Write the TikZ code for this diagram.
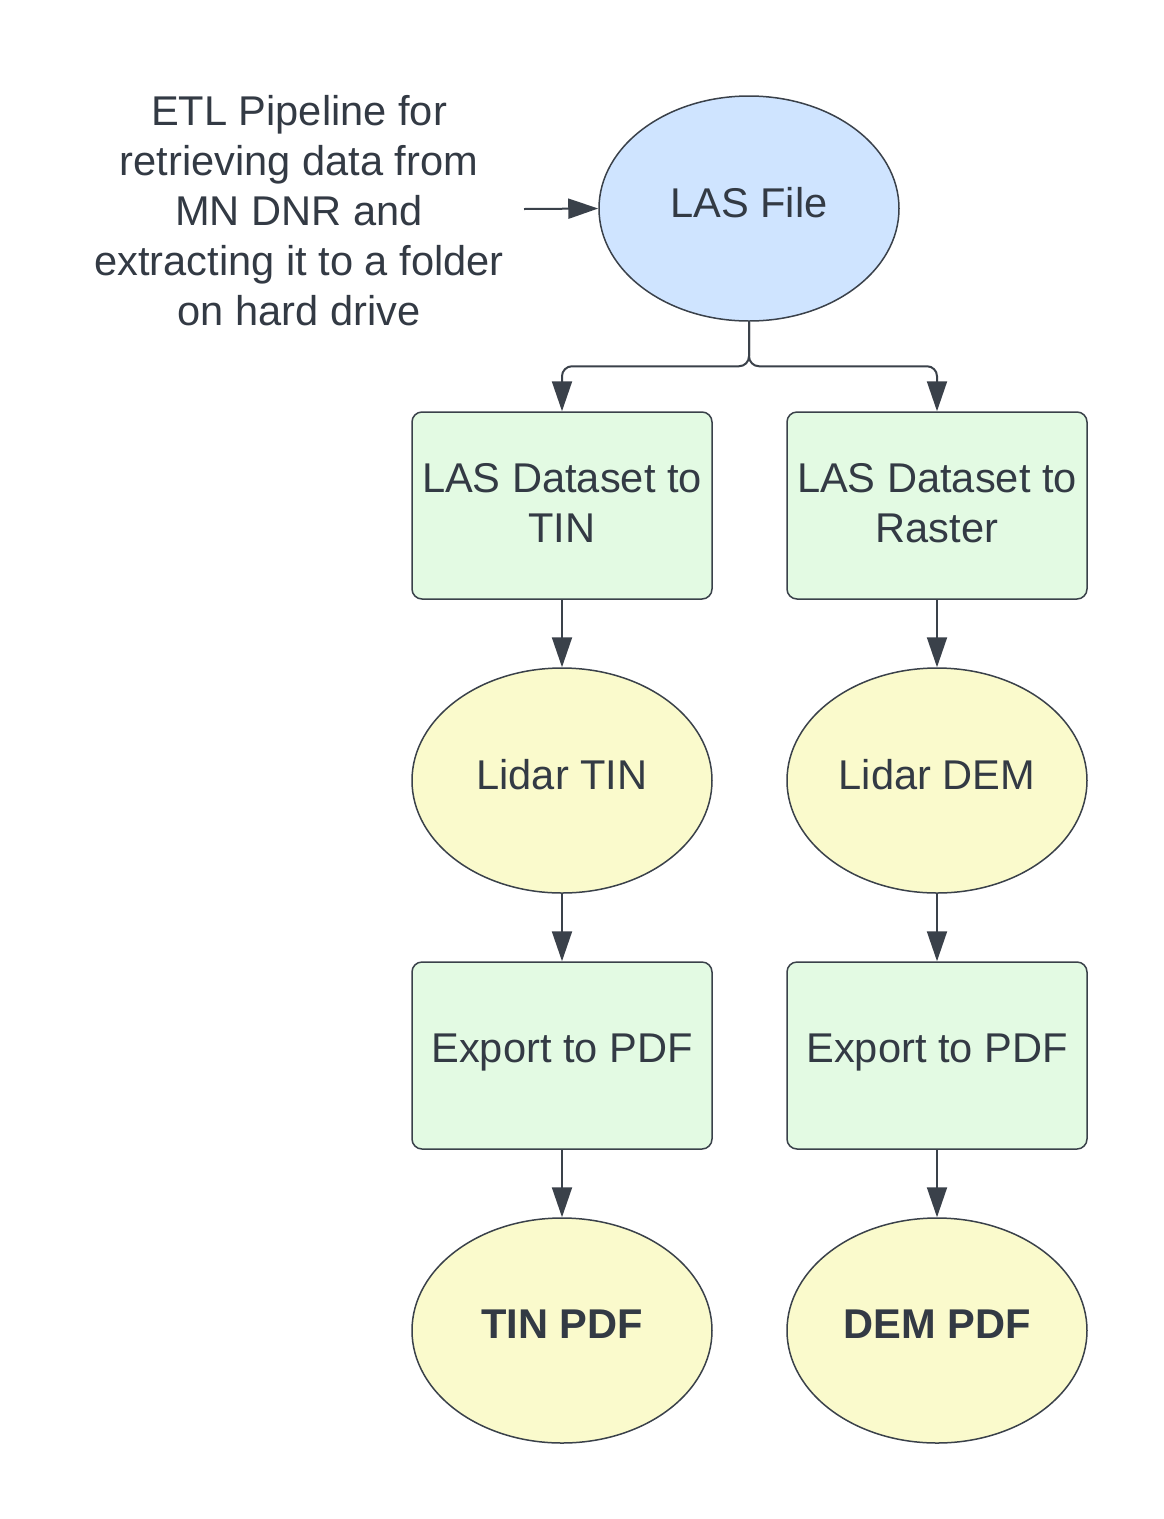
\documentclass[tikz,border=0pt]{standalone}
\usepackage{fontspec}
\setmainfont{Liberation Sans}
\usetikzlibrary{shapes.geometric,arrows.meta,calc}
\definecolor{lnc}{HTML}{3A414A}
\definecolor{txc}{HTML}{333A44}
\definecolor{bluef}{HTML}{CFE4FF}
\definecolor{greenf}{HTML}{E3FAE3}
\definecolor{yellowf}{HTML}{FAFACC}
\tikzset{
  every node/.style={text=txc, font=\fontsize{41.6}{50}\selectfont},
  ell/.style={ellipse, draw=lnc, line width=1.5pt, minimum width=300pt, minimum height=225pt, inner sep=0pt, text depth=12pt},
  boxn/.style={rectangle, rounded corners=10pt, draw=lnc, line width=1.5pt, fill=greenf, minimum width=300pt, minimum height=187pt, inner sep=0pt, align=center},
  arr/.style={draw=lnc, line width=2pt, -{Triangle[length=30pt,width=20pt]}},
}
\begin{document}
\begin{tikzpicture}[x=1pt,y=-1pt]
\useasboundingbox (0,0) rectangle (1163,1519);
\node[align=center] (etl) at (299,211) {ETL Pipeline for\\retrieving data from\\MN DNR and\\extracting it to a folder\\on hard drive};
\coordinate (src) at (524,209);
\node[ell, fill=bluef] (las) at (749,208.5) {LAS File};
\node[boxn, text depth=6pt] (b1) at (562,505.5) {LAS Dataset to\\TIN};
\node[boxn, text depth=6pt] (b2) at (937,505.5) {LAS Dataset to\\Raster};
\node[ell, fill=yellowf] (e1) at (562,780.5) {Lidar TIN};
\node[ell, fill=yellowf] (e2) at (937,780.5) {Lidar DEM};
\node[boxn, text depth=14.6pt] (x1) at (562,1055.5) {Export to PDF};
\node[boxn, text depth=14.6pt] (x2) at (937,1055.5) {Export to PDF};
\node[ell, fill=yellowf, font=\fontsize{41.6}{50}\selectfont\bfseries] (p1) at (562,1330.5) {TIN PDF};
\node[ell, fill=yellowf, font=\fontsize{41.6}{50}\selectfont\bfseries] (p2) at (937,1330.5) {DEM PDF};
\draw[arr] (src) -- (las.west);
\draw[arr, rounded corners=10pt] (las.south) |- ($(b1.north)+(0,-45)$) -- (b1.north);
\draw[arr, rounded corners=10pt] (las.south) |- ($(b2.north)+(0,-45)$) -- (b2.north);
\draw[arr] (b1.south) -- (e1.north);
\draw[arr] (b2.south) -- (e2.north);
\draw[arr] (e1.south) -- (x1.north);
\draw[arr] (e2.south) -- (x2.north);
\draw[arr] (x1.south) -- (p1.north);
\draw[arr] (x2.south) -- (p2.north);
\end{tikzpicture}
\end{document}
